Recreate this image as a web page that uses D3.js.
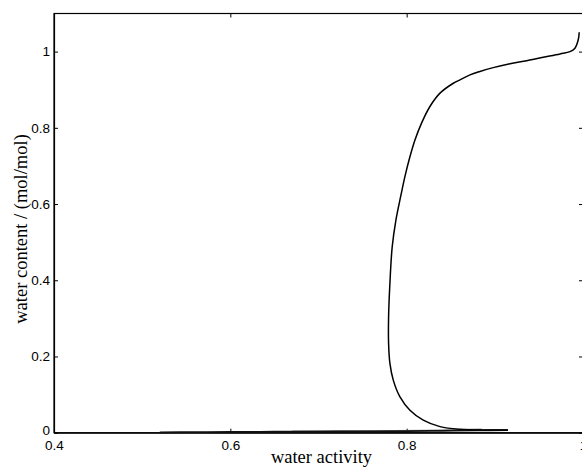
<!DOCTYPE html>
<html>
<head>
<meta charset="utf-8">
<script src="https://cdn.jsdelivr.net/npm/d3@7"></script>
<style>
  html, body { margin: 0; padding: 0; background: #fff; overflow: hidden; }
  svg { display: block; }
</style>
</head>
<body>
<svg id="chart" width="582" height="468"></svg>
<script>
// Sorption branch: water activity vs. water content (mol/mol)
const waterActivity = [
  0.9957, 0.9946, 0.9909, 0.9852, 0.9739, 0.9549, 0.9361, 0.9172, 0.8982, 0.8831,
  0.8718, 0.8604, 0.8529, 0.8378, 0.8264, 0.8170, 0.8094, 0.8037, 0.7980, 0.7932,
  0.7878, 0.7836, 0.7810, 0.7795, 0.7795, 0.7810, 0.7848, 0.7924, 0.8037, 0.8188,
  0.8378, 0.8604, 0.8907, 0.9149
];
const waterContent = [
  1.051, 1.031, 1.009, 1.000, 0.994, 0.985, 0.976, 0.968, 0.958, 0.948,
  0.939, 0.926, 0.917, 0.891, 0.856, 0.813, 0.768, 0.724, 0.672, 0.620,
  0.558, 0.488, 0.392, 0.304, 0.234, 0.182, 0.138, 0.094, 0.059, 0.033,
  0.016, 0.009, 0.007, 0.007
];

// Low-content branch running along the bottom of the plot
const lowActivity = [0.915, 0.88, 0.84, 0.80, 0.75, 0.70, 0.65, 0.60, 0.56, 0.52];
const lowContent  = [0.007, 0.006, 0.005, 0.004, 0.0035, 0.003, 0.0025, 0.002, 0.0015, 0.001];

// Faint grey companion trace near zero
const greyActivity = [0.67, 0.72, 0.77, 0.82, 0.86, 0.885];
const greyContent  = [0.004, 0.0045, 0.005, 0.006, 0.008, 0.009];

const xTicks = [0.4, 0.6, 0.8, 1];
const yTicks = [0, 0.2, 0.4, 0.6, 0.8, 1];

const svg = d3.select("#chart");
const plotLeft = 54, plotRight = 583, plotTop = 13.5, plotBottom = 432.7;

const x = d3.scaleLinear().domain([0.4, 1]).range([plotLeft, plotRight]);
const y = d3.scaleLinear().domain([0, 1.1]).range([plotBottom, plotTop]);

const fmt = d => (d === 0 || d === 1) ? String(d) : d3.format(".1f")(d);

// Frame
svg.append("rect")
  .attr("x", plotLeft).attr("y", plotTop)
  .attr("width", plotRight - plotLeft).attr("height", plotBottom - plotTop)
  .attr("fill", "none").attr("stroke", "#000").attr("stroke-width", 1.2);

// Bottom axis (inward ticks)
const xAxis = svg.append("g")
  .attr("transform", `translate(0,${plotBottom})`)
  .call(d3.axisBottom(x).tickValues(xTicks).tickFormat(fmt)
    .tickSizeInner(-4).tickSizeOuter(0).tickPadding(8));
xAxis.select(".domain").attr("stroke-width", 1.2);

// Top axis ticks only
svg.append("g")
  .attr("transform", `translate(0,${plotTop})`)
  .call(d3.axisTop(x).tickValues(xTicks).tickFormat("")
    .tickSizeInner(-4).tickSizeOuter(0))
  .select(".domain").remove();

// Left axis (inward ticks)
const yAxis = svg.append("g")
  .attr("transform", `translate(${plotLeft},0)`)
  .call(d3.axisLeft(y).tickValues(yTicks).tickFormat(fmt)
    .tickSizeInner(-4).tickSizeOuter(0).tickPadding(4));
yAxis.select(".domain").attr("stroke-width", 1.2);
// lift the zero label a touch so it clears the 0.4 label below it
yAxis.selectAll(".tick").filter(d => d === 0).select("text").attr("y", -2.5);

// Right axis ticks only
svg.append("g")
  .attr("transform", `translate(${plotRight},0)`)
  .call(d3.axisRight(y).tickValues(yTicks).tickFormat("")
    .tickSizeInner(-4).tickSizeOuter(0))
  .select(".domain").remove();

svg.selectAll(".tick text")
  .attr("font-family", "'Liberation Sans', Arial, sans-serif")
  .attr("font-size", 13.5)
  .attr("fill", "#000");
svg.selectAll(".tick line").attr("stroke", "#000");

// Axis titles
svg.append("text")
  .attr("x", (plotLeft + plotRight) / 2 + 3).attr("y", 463)
  .attr("text-anchor", "middle")
  .attr("font-family", "'Liberation Serif', 'Times New Roman', serif")
  .attr("font-size", 18.5)
  .text("water activity");

svg.append("text")
  .attr("transform", `translate(26.5,229) rotate(-90)`)
  .attr("text-anchor", "middle")
  .attr("font-family", "'Liberation Serif', 'Times New Roman', serif")
  .attr("font-size", 18.5)
  .text("water content / (mol/mol)");

// Curves
const line = d3.line()
  .x(d => x(d[0])).y(d => y(d[1]))
  .curve(d3.curveCatmullRom.alpha(0.5));

const mainPts = waterActivity.map((a, i) => [a, waterContent[i]]);
const lowPts = lowActivity.map((a, i) => [a, lowContent[i]]);
const greyPts = greyActivity.map((a, i) => [a, greyContent[i]]);

svg.append("path")
  .datum(greyPts)
  .attr("d", line)
  .attr("fill", "none").attr("stroke", "#888").attr("stroke-width", 1.5);

svg.append("path")
  .datum(lowPts)
  .attr("d", line)
  .attr("fill", "none").attr("stroke", "#111").attr("stroke-width", 1.8);

svg.append("path")
  .datum(mainPts)
  .attr("d", line)
  .attr("fill", "none").attr("stroke", "#000").attr("stroke-width", 1.5);
</script>
</body>
</html>
